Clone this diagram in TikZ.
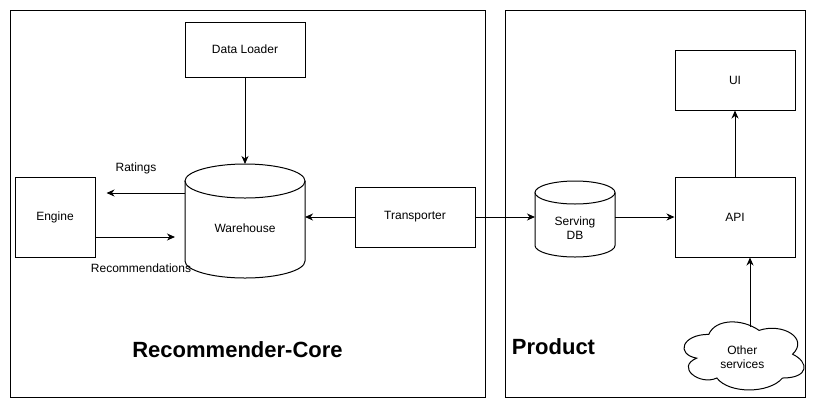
\documentclass[tikz,border=0pt]{standalone}
\usepackage{fontspec}
\setmainfont{Liberation Sans}
\usetikzlibrary{arrows.meta}
\begin{document}
\begin{tikzpicture}[x=1pt,y=-1pt,
  txt/.style={font=\fontsize{12}{14}\selectfont},
  box/.style={draw, line width=1pt, minimum width=120pt, minimum height=60pt, inner sep=0pt, txt},
  frame/.style={draw, line width=1pt, inner sep=0pt},
  ghost/.style={inner sep=0pt, outer sep=0pt},
  title/.style={font=\bfseries\fontsize{22}{26}\selectfont},
  arr/.style={line width=1pt, -{Stealth[length=8pt,width=7pt,inset=2.5pt]}},
  cyl/.style={line width=1pt}]
\useasboundingbox (0,0) rectangle (816,416);
% containers
\node[frame, minimum width=475pt, minimum height=387pt] (core) at (247.5,203.5) {};
\node[frame, minimum width=300pt, minimum height=387pt] (prod) at (655,203.5) {};
% boxes
\node[box, minimum height=55pt] (loader) at (245,49.5) {Data Loader};
\node[box, minimum width=80pt, minimum height=80pt] (engine) at (55,217) {Engine};
\node[box] (trans) at (415,217) {Transporter};
\node[box] (ui) at (735,80) {UI};
\node[box, minimum height=80pt] (api) at (735,217) {API};
% warehouse cylinder
\node[ghost, minimum width=120pt, minimum height=114pt,
  label={[txt, yshift=-7pt]center:Warehouse}] (wh) at (245,221) {};
\draw[cyl] (245,181) ellipse[x radius=60, y radius=17];
\draw[cyl] (185,181) -- (185,261) arc[start angle=180, end angle=0, x radius=60, y radius=17] -- (305,181);
% serving db cylinder
\node[ghost, minimum width=80pt, minimum height=76pt,
  label={[txt, align=center, yshift=-9pt]center:Serving\\DB}] (sdb) at (575,219) {};
\draw[cyl] (575,192.5) ellipse[x radius=40, y radius=11.5];
\draw[cyl] (535,192.5) -- (535,245.5) arc[start angle=180, end angle=0, x radius=40, y radius=11.5] -- (615,192.5);
% cloud
\node[ghost, minimum width=134pt, minimum height=79.4pt,
  label={[txt, align=center, yshift=-3pt]center:Other\\services}] (cloud) at (742.3,354.2) {};
\begin{scope}[shift={(cloud.north west)}, x=134pt, y=-79.4pt]
\draw[line width=1pt] (0.25,0.25)
  .. controls (0.05,0.25) and (0,0.5) .. (0.16,0.55)
  .. controls (0,0.66) and (0.18,0.9) .. (0.31,0.8)
  .. controls (0.4,1) and (0.7,1) .. (0.8,0.8)
  .. controls (1,0.8) and (1,0.6) .. (0.875,0.5)
  .. controls (1,0.3) and (0.8,0.1) .. (0.625,0.2)
  .. controls (0.5,0.05) and (0.3,0.05) .. (0.25,0.25) -- cycle;
\end{scope}
\coordinate (cltop) at (750,327);
% connectors
\draw[arr] (loader.south) -- (wh.north);
\draw[arr] ([yshift=28pt]wh.west) -- ([xshift=11pt,yshift=24pt]engine.east);
\draw[arr] ([yshift=-20pt]engine.east) -- ([xshift=-10pt,yshift=-16pt]wh.west);
\draw[arr] (trans.west) -- (wh.east |- trans.west);
\draw[arr] (trans.east) -- (sdb.west |- trans.east);
\draw[arr] (sdb.east |- api.west) -- (api.west);
\draw[arr] (api.north) -- (ui.south);
\draw[arr] (cltop) -- (cltop |- api.south);
% labels
\node[txt] (lratings) at (136,168) {Ratings};
\node[txt] (lrecs) at (141,268) {Recommendations};
\node[title] (tcore) at (237.5,349.5) {Recommender-Core};
\node[title] (tprod) at (553.5,346.7) {Product};
\end{tikzpicture}
\end{document}
